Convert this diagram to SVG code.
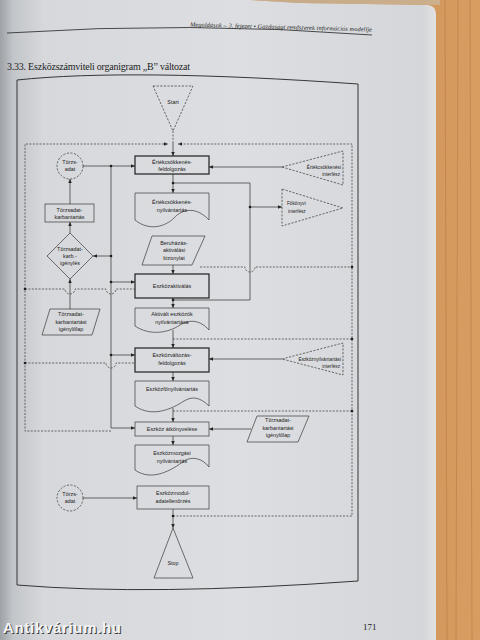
<svg xmlns="http://www.w3.org/2000/svg" width="480" height="640" viewBox="0 0 480 640">
<defs>
<linearGradient id="pg" x1="0" y1="0" x2="1" y2="0">
<stop offset="0" stop-color="#9ea2a7"/>
<stop offset="0.03" stop-color="#c2c5c9"/>
<stop offset="0.1" stop-color="#d6d8db"/>
<stop offset="0.55" stop-color="#dddee1"/>
<stop offset="0.97" stop-color="#d5d6d9"/>
<stop offset="1" stop-color="#e2e2e3"/>
</linearGradient>
<linearGradient id="wd" x1="0" y1="0" x2="1" y2="0">
<stop offset="0" stop-color="#bd8148"/>
<stop offset="0.3" stop-color="#d2975a"/>
<stop offset="0.6" stop-color="#c78b4f"/>
<stop offset="1" stop-color="#d89d60"/>
</linearGradient>
<marker id="ah" viewBox="0 0 6 6" refX="6" refY="3" markerWidth="4.2" markerHeight="4.2" orient="auto" markerUnits="userSpaceOnUse">
<path d="M0,0.4 L6,3 L0,5.6 Z" fill="#262626"/>
</marker>
<style>
.ln{fill:none;stroke:#2e2e2e;stroke-width:0.7}
.dt{fill:none;stroke:#333;stroke-width:0.7;stroke-dasharray:2 1.4}
.bx{fill:none;stroke:#3a3a3a;stroke-width:0.7}
.bb{fill:none;stroke:#1e1e1e;stroke-width:1.2}
.ds{fill:none;stroke:#333;stroke-width:0.7;stroke-dasharray:2.2 1.4}
.dot{fill:#1e1e1e}
.t{font-family:"Liberation Sans",Arial,sans-serif;font-size:5.4px;fill:#222;text-anchor:middle}
.ts{font-family:"Liberation Sans",Arial,sans-serif;font-size:4.7px;fill:#222}
.sf{font-family:"Liberation Serif","Times New Roman",serif;fill:#1e1e1e}
</style>
</defs>
<rect width="480" height="640" fill="url(#wd)"/>
<g stroke="#a96f3a" stroke-width="0.8" opacity="0.5">
<line x1="445" y1="0" x2="447" y2="640"/><line x1="458" y1="0" x2="456" y2="640"/><line x1="470" y1="0" x2="472" y2="640"/>
</g>
<path d="M0,0 H250 L300,3 H300 L428,5 Q436,6 436,14 V640 H0 Z" fill="url(#pg)"/>
<path d="M250,0 H440 V5 L300,3 Z" fill="#c8b9a3" opacity="0.7"/>

<!-- page header -->
<text class="sf" x="190" y="26.5" font-size="6.3" font-style="italic" textLength="182" transform="rotate(1.6 190 26)">Megoldások – 3. fejezet • Gazdasági rendszerek információs modellje</text>
<path d="M7,33 Q190,21 372,35" fill="none" stroke="#222" stroke-width="0.8"/>
<text class="sf" x="7" y="69.5" font-size="10" textLength="183">3.33. Eszközszámviteli organigram „B” változat</text>

<!-- outer frame -->
<path d="M17,80 Q130,68 358,84 V581 Q150,596 17,585 Z" fill="none" stroke="#222" stroke-width="0.9"/>

<!-- connectors -->
<g id="connectors">
<path class="dt" d="M173,131 V143"/>
<path class="dt" d="M111,431 H25 V144 H168" marker-end="url(#ah)"/>
<path class="dt" d="M173,516 H352 V144 H178" marker-end="url(#ah)"/>
<path class="ln" d="M173,143 V156" marker-end="url(#ah)"/>
<path class="dt" d="M25,289 H65 A5,5 0 0 0 75,289 H106 A5,5 0 0 0 116,289 H135"/>
<path class="dt" d="M25,363 H106 A5,5 0 0 0 116,363 H135"/>
<path class="dt" d="M200,267 H245 A5,5 0 0 0 255,267 H352"/>
<path class="dt" d="M173,339 H352"/>
<path class="dt" d="M173,411 H352"/>
<path class="ln" d="M83,166 H135" marker-end="url(#ah)"/>
<path class="ln" d="M111,166 V428 H135" marker-end="url(#ah)"/>
<path class="ln" d="M111,256 H93" marker-end="url(#ah)"/>
<path class="ln" d="M111,282 H135" marker-end="url(#ah)"/>
<path class="ln" d="M111,355 H135" marker-end="url(#ah)"/>
<path class="ln" d="M70,204 V179" marker-end="url(#ah)"/>
<path class="ln" d="M70,233 V222" marker-end="url(#ah)"/>
<path class="ln" d="M70,309 V279" marker-end="url(#ah)"/>
<path class="ln" d="M173,174 V193" marker-end="url(#ah)"/>
<path class="ln" d="M173,183 H250 V300 H173"/>
<path class="ln" d="M250,207 H282" marker-end="url(#ah)"/>
<path class="ln" d="M282,167 H209" marker-end="url(#ah)"/>
<path class="ln" d="M173,265 V274" marker-end="url(#ah)"/>
<path class="ln" d="M173,298 V308" marker-end="url(#ah)"/>
<path class="ln" d="M173,330 V348" marker-end="url(#ah)"/>
<path class="ln" d="M173,372 V381" marker-end="url(#ah)"/>
<path class="ln" d="M282,359 H209" marker-end="url(#ah)"/>
<path class="ln" d="M173,408 V422" marker-end="url(#ah)"/>
<path class="ln" d="M251,429 H209" marker-end="url(#ah)"/>
<path class="ln" d="M173,436 V445" marker-end="url(#ah)"/>
<path class="ln" d="M83,498 H137" marker-end="url(#ah)"/>
<path class="ln" d="M173,509 V528" marker-end="url(#ah)"/>
<g class="dot">
<circle cx="111" cy="166" r="1.3"/><circle cx="111" cy="256" r="1.3"/><circle cx="111" cy="282" r="1.3"/><circle cx="111" cy="355" r="1.3"/>
<circle cx="173" cy="183" r="1.3"/><circle cx="250" cy="207" r="1.3"/><circle cx="173" cy="300" r="1.3"/><circle cx="173" cy="516" r="1.3"/>
<circle cx="25" cy="289" r="1.3"/><circle cx="25" cy="363" r="1.3"/>
<circle cx="352" cy="267" r="1.3"/><circle cx="352" cy="339" r="1.3"/><circle cx="352" cy="411" r="1.3"/>
</g>
</g>

<!-- nodes -->
<g id="start">
<polygon class="ds" points="153,86 193,86 173,131"/>
<text class="t" x="173" y="104">Start</text>
</g>
<g id="ertekcsokkenes-feldolgozas">
<rect class="bb" x="135" y="156" width="74" height="18"/>
<text class="t" x="172" y="164">Értékcsökkenés-</text>
<text class="t" x="172" y="171">feldolgozás</text>
</g>
<g id="ertekcsokkenesi-interfesz">
<polygon class="ds" points="282,167 343,151 343,185"/>
<text class="ts" x="341" y="169" text-anchor="end">Értékcsökkenési</text>
<text class="ts" x="340" y="176" text-anchor="end">interfész</text>
</g>
<g id="fokonyvi-interfesz">
<polygon class="ds" points="282,189 282,226 343,208"/>
<text class="ts" x="287" y="205" font-size="5.2">Főkönyvi</text>
<text class="ts" x="288" y="213" font-size="5.2">interfész</text>
</g>
<g id="torzsadat-1">
<circle class="ds" cx="70" cy="166" r="13"/>
<text class="t" x="70" y="164">Törzs-</text>
<text class="t" x="70" y="171">adat</text>
</g>
<g id="torzsadat-karbantartas">
<rect class="bx" x="45" y="204" width="49" height="18"/>
<text class="t" x="69.5" y="212">Törzsadat-</text>
<text class="t" x="69.5" y="219">karbantartás</text>
</g>
<g id="torzsadat-karb-igenyles">
<polygon class="bx" points="70,233 93,256 70,279 47,256"/>
<text class="t" x="70" y="251">Törzsadat-</text>
<text class="t" x="70" y="258">karb.-</text>
<text class="t" x="70" y="265">igénylés</text>
</g>
<g id="torzsadat-igenylolap-bal">
<polygon class="bx" points="50,309 100,309 92,335 42,335"/>
<text class="t" x="71" y="316">Törzsadat-</text>
<text class="t" x="71" y="324">karbantartási</text>
<text class="t" x="71" y="331">igénylőlap</text>
</g>
<g id="ertekcsokkenes-nyilvantartas">
<path class="bx" d="M135,193 H209 V220 C196,206 182,209 174,218 C166,226 150,232 135,220 Z"/>
<text class="t" x="172" y="204">Értékcsökkenés-</text>
<text class="t" x="172" y="212">nyilvántartás</text>
</g>
<g id="beruhazas-aktivalasi-bizonylat">
<polygon class="bx" points="152,236 205,236 192,265 142,265"/>
<text class="t" x="174" y="245">Beruházás-</text>
<text class="t" x="174" y="252">aktiválási</text>
<text class="t" x="174" y="260">bizonylat</text>
</g>
<g id="eszkozaktivalas">
<rect class="bb" x="135" y="274" width="74" height="24"/>
<text class="t" x="172" y="288">Eszközaktiválás</text>
</g>
<g id="aktivalt-eszkozok-nyilvantartasa">
<path class="bx" d="M135,308 H209 V330 C200,320 190,319 180,325 C168,333 150,336 135,326 Z"/>
<text class="t" x="172" y="316">Aktivált eszközök</text>
<text class="t" x="172" y="324">nyilvántartása</text>
</g>
<g id="eszkozvaltozas-feldolgozas">
<rect class="bb" x="135" y="348" width="74" height="24"/>
<text class="t" x="172" y="357">Eszközváltozás-</text>
<text class="t" x="172" y="365">feldolgozás</text>
</g>
<g id="eszkoznyilvantartasi-interfesz">
<polygon class="ds" points="282,359 343,343 343,375"/>
<text class="ts" x="341" y="361" text-anchor="end">Eszköznyilvántartási</text>
<text class="ts" x="340" y="368" text-anchor="end">interfész</text>
</g>
<g id="eszkozfonyilvantartas">
<path class="bx" d="M135,381 H209 V406 C200,397 192,396 184,401 C172,409 152,418 135,406 Z"/>
<text class="t" x="172" y="391">Eszközfőnyilvántartás</text>
</g>
<g id="eszkoz-atkonyvelese">
<rect class="bx" x="135" y="422" width="74" height="14"/>
<text class="t" x="172" y="431">Eszköz átkönyvelése</text>
</g>
<g id="torzsadat-igenylolap-jobb">
<polygon class="bx" points="257,416 309,416 298,442 247,442"/>
<text class="t" x="278" y="422">Törzsadat-</text>
<text class="t" x="278" y="429.5">karbantartási</text>
<text class="t" x="278" y="437">igénylőlap</text>
</g>
<g id="eszkozmozgasi-nyilvantartas">
<path class="bx" d="M135,445 H209 V467 C202,458 192,456 184,461 C172,470 152,482 135,470 Z"/>
<text class="t" x="172" y="455">Eszközmozgási</text>
<text class="t" x="172" y="463">nyilvántartás</text>
</g>
<g id="torzsadat-2">
<circle class="ds" cx="70" cy="498" r="13"/>
<text class="t" x="70" y="496">Törzs-</text>
<text class="t" x="70" y="503">adat</text>
</g>
<g id="eszkozmodul-adatellenorzes">
<rect class="bx" x="137" y="486" width="72" height="23"/>
<text class="t" x="173" y="495">Eszközmodul-</text>
<text class="t" x="173" y="503">adatellenőrzés</text>
</g>
<g id="stop">
<polygon class="bx" points="173,528 193,578 154,578"/>
<text class="t" x="173" y="565">Stop</text>
</g>

<text class="sf" x="363" y="630" font-size="9">171</text>
<g font-family="'Liberation Sans',Arial,sans-serif" font-weight="bold" font-size="15">
<text x="4" y="634" fill="#3a3a3a" textLength="118">Antikvárium.hu</text>
<text x="3" y="633" fill="#f4f4f4" textLength="118">Antikvárium.hu</text>
</g>
</svg>
